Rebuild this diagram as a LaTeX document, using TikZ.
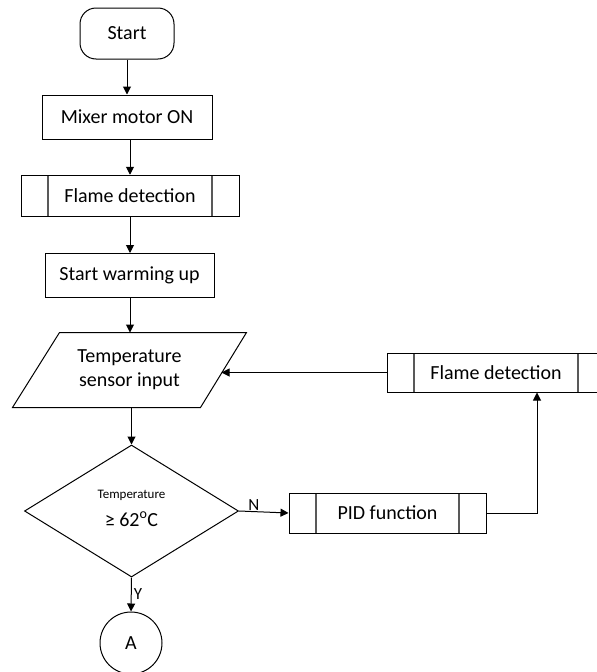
\documentclass[tikz,border=0pt]{standalone}
\usepackage{fontspec}
\setmainfont{Carlito}
\usetikzlibrary{shapes.geometric,arrows.meta,calc}

\begin{document}
\begin{tikzpicture}[x=1pt,y=-1pt,line width=1pt,
  lbl/.style={font=\fontsize{20}{24}\selectfont,text=black},
  box/.style={draw,rectangle,inner sep=0pt,lbl},
  term/.style={box,rounded corners=16pt},
  subproc/.style={box,path picture={
      \draw[black!65,line width=1.3pt]
        ([xshift=27pt]path picture bounding box.north west) -- ([xshift=27pt]path picture bounding box.south west)
        ([xshift=-27pt]path picture bounding box.north east) -- ([xshift=-27pt]path picture bounding box.south east);}},
  flow/.style={-{Triangle[length=8pt,width=8pt]}},
  yn/.style={font=\fontsize{17}{20}\selectfont,text=black}]

\useasboundingbox (0,0) rectangle (597,672);

% main column
\node[term,minimum width=94pt,minimum height=51pt] (start) at (127,33.5) {Start};
\node[box,minimum width=170pt,minimum height=44pt] (mixer) at (127,117) {Mixer motor ON};
\node[subproc,minimum width=218pt,minimum height=41.5pt] (flame1) at (130,196) {Flame detection};
\node[box,minimum width=169pt,minimum height=44pt] (warm) at (129.5,275.5) {Start warming up};

% input parallelogram (text node plus outline)
\node[lbl,minimum width=233pt,minimum height=74pt,inner sep=0pt,align=center] (tsi) at (129.5,370)
  {Temperature\\sensor input};
\draw ($(tsi.north west)+(47,0)$) -- (tsi.north east) -- ($(tsi.south east)-(46,0)$)
  -- (tsi.south west) -- cycle;
\coordinate (tsir) at (221.5,372.5);

% decision
\node[draw,diamond,minimum width=214pt,minimum height=132pt,inner sep=0pt] (dec) at (131.5,511) {};
\node[font=\fontsize{13}{15}\selectfont,text=black] (dectop) at (131.5,495) {Temperature};
\node[lbl] (decbot) at (131.5,519) {≥ 62\textsuperscript{o}C};

\node[draw,circle,minimum size=62pt,inner sep=0pt,lbl] (conA) at (131,643) {A};

% loop branch
\node[subproc,minimum width=197pt,minimum height=40pt] (pid) at (387.5,513) {PID function};
\node[subproc,minimum width=218pt,minimum height=39pt] (flame2) at (496,372.5) {Flame detection};

% connectors
\draw[flow] (start.south) -- (start.south |- mixer.north);
\draw[flow] ([xshift=3pt]mixer.south) -- ([xshift=3pt]mixer.south |- flame1.north);
\draw[flow] (flame1.south) -- (flame1.south |- warm.north);
\draw[flow] ([xshift=0.5pt]warm.south) -- ([xshift=0.5pt]warm.south |- tsi.north);
\draw[flow] ([xshift=2pt]tsi.south) -- (dec.north);
\draw[flow] (dec.east) -- (pid.west) node[yn,pos=0.3,above,inner sep=1pt] {N};
\draw[flow] (dec.south) -- (conA.north) node[yn,midway,right,inner sep=2pt] {Y};
\draw[flow] (pid.east) -| ([xshift=41pt]flame2.south);
\draw[flow] (flame2.west) -- (tsir);

\end{tikzpicture}
\end{document}
